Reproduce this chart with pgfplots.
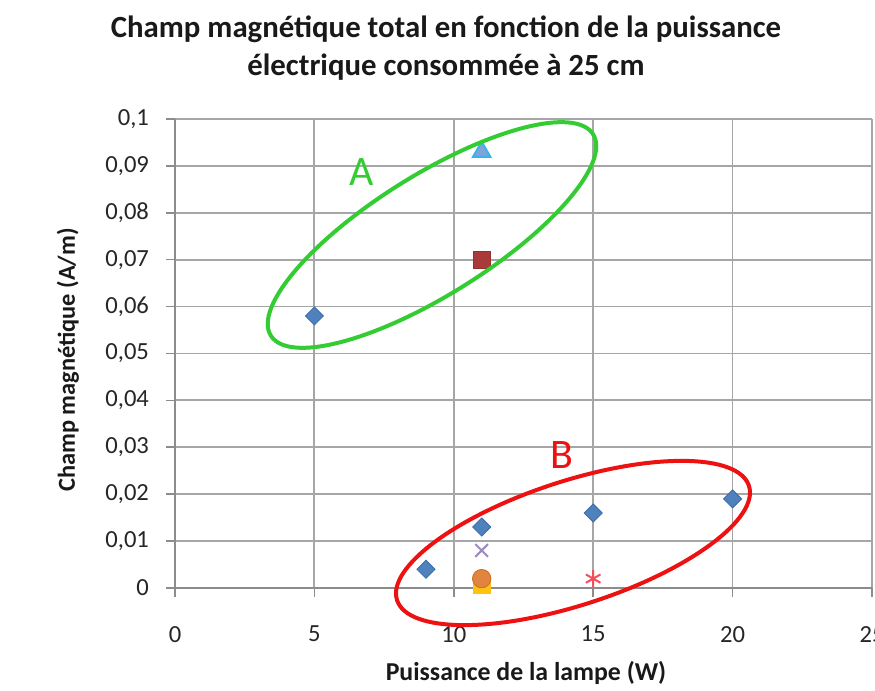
\documentclass[border=0pt]{standalone}
\usepackage{fontspec}
\setmainfont{Carlito}
\usepackage{pgfplots}
\pgfplotsset{compat=1.18}
\definecolor{sBlue}{HTML}{4F81BD}
\definecolor{sBlueD}{HTML}{3A6BA8}
\definecolor{sRed}{HTML}{A83A3A}
\definecolor{sRedD}{HTML}{943030}
\definecolor{sTriF}{HTML}{7FA4DA}
\definecolor{sTriE}{HTML}{3BB0EA}
\definecolor{sPurple}{HTML}{9C8BC2}
\definecolor{sOrange}{HTML}{E0843E}
\definecolor{sOrangeD}{HTML}{C86E2A}
\definecolor{sYellow}{HTML}{FFC20E}
\definecolor{sStar}{HTML}{F0505A}
\definecolor{gridc}{HTML}{A6A6A6}
\definecolor{axisc}{HTML}{8C8C8C}
\definecolor{ringA}{HTML}{33CC33}
\definecolor{ringB}{HTML}{EE1111}
\begin{document}
\begin{tikzpicture}
% 1 px of the reference = 0.5pt; data origin at (0,0)
\clip (-87.5pt,-51.5pt) rectangle (350pt,294pt);
\begin{axis}[
  at={(0pt,0pt)}, anchor=south west,
  scale only axis,
  width=348.5pt, height=234.5pt,
  xmin=0, xmax=25, ymin=0, ymax=0.1,
  xtick={0,5,10,15,20,25},
  ytick={0,0.01,0.02,0.03,0.04,0.05,0.06,0.07,0.08,0.09,0.1},
  scaled y ticks=false,
  /pgf/number format/.cd, use comma, fixed, precision=2, assume math mode=true,
  /pgfplots/.cd,
  axis lines*=left,
  axis line style={axisc, line width=0.9pt, -},
  tick align=outside,
  major tick length=4.5pt,
  tick style={axisc, line width=0.8pt},
  grid=major,
  major grid style={gridc, line width=0.9pt},
  tick label style={font=\fontsize{12.3}{13}\selectfont, black!85},
  yticklabel style={xshift=-5pt},
  xticklabel style={yshift=-11pt},
  clip=false,
]
  \addplot[only marks, mark=square*, mark size=3.2pt,
    mark options={rotate=45, fill=sBlue, draw=sBlueD}]
    coordinates {(5,0.058) (9,0.004) (11,0.013) (15,0.016) (20,0.019)};
  \addplot[only marks, mark=square*, mark size=4.3pt,
    mark options={fill=sRed, draw=sRedD}]
    coordinates {(11,0.070)};
  \addplot[only marks, mark=triangle*, mark size=5pt,
    mark options={fill=sTriF, draw=sTriE, line width=1pt}]
    coordinates {(11,0.093)};
  \addplot[only marks, mark=x, mark size=4.5pt,
    mark options={draw=sPurple, line width=1pt}]
    coordinates {(11,0.008)};
  \addplot[only marks, mark=square*, mark size=4.3pt,
    mark options={fill=sYellow, draw=sYellow}]
    coordinates {(11,0.0006)};
  \addplot[only marks, mark=*, mark size=4.6pt,
    mark options={fill=sOrange, draw=sOrangeD}]
    coordinates {(11,0.002)};
  \addplot[only marks, mark=asterisk, mark size=4.2pt,
    mark options={draw=sStar, line width=1pt}]
    coordinates {(15,0.002)};
\end{axis}
% groups A and B
\draw[ringA, line width=2pt, rotate around={32:(128.5pt,176.5pt)}]
  (128.5pt,176.5pt) ellipse [x radius=95pt, y radius=30pt];
\draw[ringB, line width=2pt, rotate around={18:(199pt,22.5pt)}]
  (199pt,22.5pt) ellipse [x radius=92.5pt, y radius=31pt];
\node[ringA, font=\fontsize{21}{21}\selectfont] at (93.5pt,208pt) {A};
\node[ringB, font=\fontsize{21}{21}\selectfont] at (193.5pt,66.5pt) {B};
% titles
\node[font=\fontsize{15.4}{19}\selectfont\bfseries, align=center, black!90]
  at (135.5pt,270pt) {Champ magnétique total en fonction de la puissance\\électrique consommée à 25 cm};
\node[font=\fontsize{12.9}{14}\selectfont\bfseries, black!90]
  at (175.5pt,-42.5pt) {Puissance de la lampe (W)};
\node[font=\fontsize{12.2}{14}\selectfont\bfseries, black!90, rotate=90]
  at (-53.5pt,114pt) {Champ magnétique (A/m)};
\end{tikzpicture}
\end{document}
